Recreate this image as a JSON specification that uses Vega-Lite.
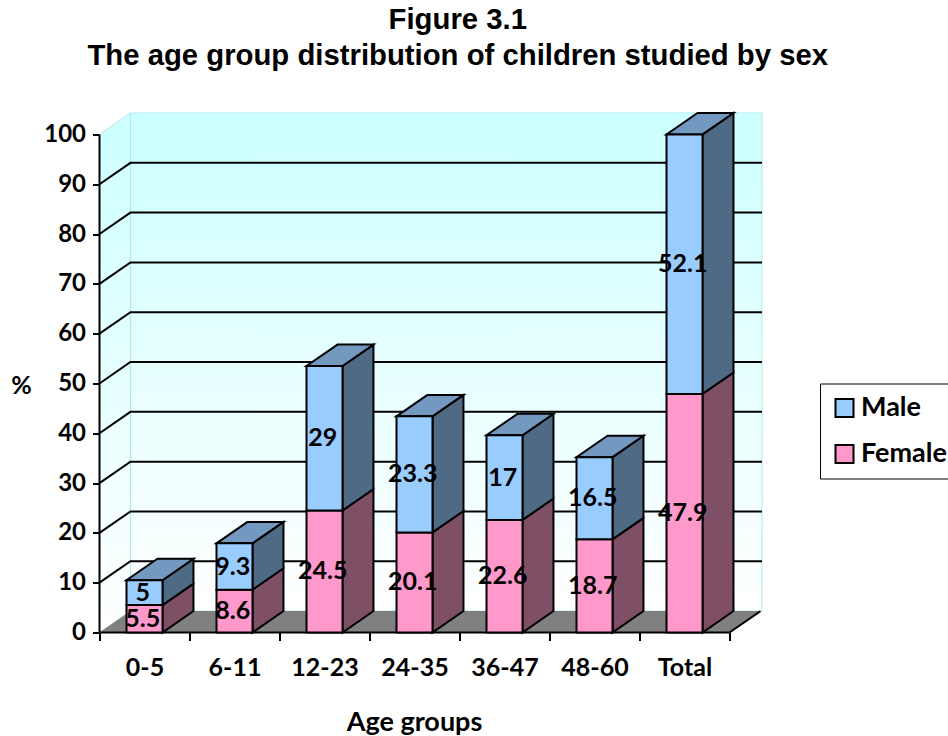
{
  "$schema": "https://vega.github.io/schema/vega-lite/v6.json",
  "autosize": "none",
  "width": 662.5,
  "height": 520,
  "padding": {"left": 99.5, "top": 112.5, "right": 186, "bottom": 103.5},
  "background": "white",
  "view": {"stroke": null},
  "title": {
    "text": ["Figure 3.1", "The age group distribution of children studied by sex"],
    "font": "Liberation Sans",
    "fontSize": 29.3,
    "fontWeight": "bold",
    "color": "black",
    "lineHeight": 36,
    "anchor": "middle",
    "dx": 27,
    "offset": 38
  },
  "params": [
    {"name": "groups", "value": ["0-5", "6-11", "12-23", "24-35", "36-47", "48-60", "Total"]},
    {"name": "dx", "value": 0.344},
    {"name": "dy", "value": 4.3},
    {"name": "halfBar", "value": 0.2},
    {"name": "xLeft", "value": -0.5},
    {"name": "xFront", "value": 6.5},
    {"name": "xBack", "value": 6.861}
  ],
  "datasets": {
    "bars": [
      {"group": "0-5", "sex": "Female", "value": 5.5},
      {"group": "0-5", "sex": "Male", "value": 5},
      {"group": "6-11", "sex": "Female", "value": 8.6},
      {"group": "6-11", "sex": "Male", "value": 9.3},
      {"group": "12-23", "sex": "Female", "value": 24.5},
      {"group": "12-23", "sex": "Male", "value": 29},
      {"group": "24-35", "sex": "Female", "value": 20.1},
      {"group": "24-35", "sex": "Male", "value": 23.3},
      {"group": "36-47", "sex": "Female", "value": 22.6},
      {"group": "36-47", "sex": "Male", "value": 17},
      {"group": "48-60", "sex": "Female", "value": 18.7},
      {"group": "48-60", "sex": "Male", "value": 16.5},
      {"group": "Total", "sex": "Female", "value": 47.9},
      {"group": "Total", "sex": "Male", "value": 52.1}
    ],
    "gridTicks": [
      {"tick": 10}, {"tick": 20}, {"tick": 30}, {"tick": 40}, {"tick": 50},
      {"tick": 60}, {"tick": 70}, {"tick": 80}, {"tick": 90}
    ],
    "depthEnds": [{"k": 0}, {"k": 1}],
    "single": [{"k": 0}]
  },
  "layer": [
    {
      "description": "Back wall with its cyan-to-white fade",
      "data": {"name": "single"},
      "transform": [
        {"calculate": "xLeft + dx", "as": "wx0"},
        {"calculate": "xBack", "as": "wx1"},
        {"calculate": "dy", "as": "wy0"},
        {"calculate": "100 + dy", "as": "wy1"}
      ],
      "mark": {
        "type": "rect",
        "stroke": "#c4f2f2",
        "strokeWidth": 1.5,
        "fill": {
          "gradient": "linear", "x1": 0, "y1": 0, "x2": 0, "y2": 1,
          "stops": [{"offset": 0, "color": "#ccffff"}, {"offset": 1, "color": "#ffffff"}]
        }
      },
      "encoding": {
        "x": {
          "field": "wx0",
          "type": "quantitative",
          "scale": {"domain": [-0.5, 6.861], "nice": false, "zero": false},
          "axis": {
            "title": "Age groups",
            "titleFont": "Lato",
            "titleFontSize": 27,
            "titleFontWeight": "bold",
            "titleColor": "black",
            "titleX": 314.5,
            "titleY": 90,
            "titleBaseline": "middle",
            "titleAlign": "center",
            "values": [-0.5, 0, 0.5, 1, 1.5, 2, 2.5, 3, 3.5, 4, 4.5, 5, 5.5, 6, 6.5],
            "labelExpr": "datum.value % 1 === 0 ? groups[datum.value] : ''",
            "labelFont": "Lato",
            "labelFontSize": 25,
            "labelFontWeight": "bold",
            "labelColor": "black",
            "labelPadding": 15,
            "labelOverlap": false,
            "labelFlush": false,
            "labelBound": false,
            "domain": false,
            "grid": false,
            "tickColor": "black",
            "tickWidth": 2,
            "tickSize": 8,
            "tickOpacity": {"condition": {"test": "datum.value % 1 === 0", "value": 0}, "value": 1}
          }
        },
        "x2": {"field": "wx1"},
        "y": {
          "field": "wy1",
          "type": "quantitative",
          "scale": {"domain": [0, 104.4], "nice": false, "zero": false},
          "axis": {
            "title": "%",
            "titleFont": "Lato",
            "titleFontSize": 25,
            "titleFontWeight": "bold",
            "titleColor": "black",
            "titleAngle": 0,
            "titleX": -78.5,
            "titleY": 272.5,
            "titleBaseline": "middle",
            "titleAlign": "center",
            "values": [0, 10, 20, 30, 40, 50, 60, 70, 80, 90, 100],
            "labelFont": "Lato",
            "labelFontSize": 24,
            "labelFontWeight": "bold",
            "labelColor": "black",
            "labelPadding": 7,
            "labelOverlap": false,
            "labelFlush": false,
            "labelBound": false,
            "domain": false,
            "grid": false,
            "tickColor": "black",
            "tickWidth": 2,
            "tickSize": 7
          }
        },
        "y2": {"field": "wy0"}
      }
    },
    {
      "description": "Left side wall",
      "data": {"name": "depthEnds"},
      "transform": [
        {"calculate": "xLeft + datum.k * dx", "as": "sx"},
        {"calculate": "datum.k * dy", "as": "sy0"},
        {"calculate": "100 + datum.k * dy", "as": "sy1"}
      ],
      "mark": {
        "type": "area",
        "orient": "vertical",
        "stroke": "#b4e4e4",
        "strokeWidth": 1,
        "fill": {
          "gradient": "linear", "x1": 0, "y1": 0, "x2": 0, "y2": 1,
          "stops": [{"offset": 0, "color": "#ccffff"}, {"offset": 1, "color": "#ffffff"}]
        }
      },
      "encoding": {
        "x": {"field": "sx", "type": "quantitative"},
        "y": {"field": "sy1", "type": "quantitative"},
        "y2": {"field": "sy0"}
      }
    },
    {
      "description": "Grey floor",
      "data": {"name": "depthEnds"},
      "transform": [
        {"calculate": "datum.k * dy", "as": "fy"},
        {"calculate": "xLeft + datum.k * dx", "as": "fx0"},
        {"calculate": "xFront + datum.k * dx", "as": "fx1"}
      ],
      "mark": {"type": "area", "orient": "horizontal", "fill": "#808080"},
      "encoding": {
        "y": {"field": "fy", "type": "quantitative"},
        "x": {"field": "fx0", "type": "quantitative"},
        "x2": {"field": "fx1"}
      }
    },
    {
      "description": "Gridlines running along the side wall, then across the back wall",
      "data": {"name": "gridTicks"},
      "transform": [
        {"calculate": "[0, 1, 2]", "as": "vertex"},
        {"flatten": ["vertex"]},
        {"calculate": "datum.vertex === 0 ? xLeft : datum.vertex === 1 ? xLeft + dx : xBack", "as": "gx"},
        {"calculate": "datum.tick + (datum.vertex === 0 ? 0 : dy)", "as": "gy"}
      ],
      "mark": {"type": "line", "color": "black", "strokeWidth": 2},
      "encoding": {
        "x": {"field": "gx", "type": "quantitative"},
        "y": {"field": "gy", "type": "quantitative"},
        "detail": {"field": "tick"},
        "order": {"field": "vertex"}
      }
    },
    {
      "description": "Vertical axis line",
      "data": {"name": "depthEnds"},
      "transform": [
        {"calculate": "xLeft", "as": "ax"},
        {"calculate": "datum.k * 100", "as": "ay"}
      ],
      "mark": {"type": "line", "color": "black", "strokeWidth": 2},
      "encoding": {
        "x": {"field": "ax", "type": "quantitative"},
        "y": {"field": "ay", "type": "quantitative"}
      }
    },
    {
      "description": "Front edge of the floor",
      "data": {"name": "depthEnds"},
      "transform": [
        {"calculate": "datum.k === 0 ? xLeft : xFront", "as": "ax"},
        {"calculate": "0", "as": "ay"}
      ],
      "mark": {"type": "line", "color": "black", "strokeWidth": 2},
      "encoding": {
        "x": {"field": "ax", "type": "quantitative"},
        "y": {"field": "ay", "type": "quantitative"}
      }
    },
    {
      "description": "Right edge of the floor",
      "data": {"name": "depthEnds"},
      "transform": [
        {"calculate": "xFront + datum.k * dx", "as": "ax"},
        {"calculate": "datum.k * dy", "as": "ay"}
      ],
      "mark": {"type": "line", "color": "black", "strokeWidth": 2},
      "encoding": {
        "x": {"field": "ax", "type": "quantitative"},
        "y": {"field": "ay", "type": "quantitative"}
      }
    },
    {
      "description": "Side faces of the female segments",
      "data": {"name": "bars"},
      "transform": [
        {"stack": "value", "groupby": ["group"], "sort": [{"field": "sex", "order": "ascending"}], "as": ["v0", "v1"]},
        {"filter": "datum.sex === 'Female'"},
        {"calculate": "[0, 1]", "as": "k"},
        {"flatten": ["k"]},
        {"calculate": "indexof(groups, datum.group) + halfBar + datum.k * dx", "as": "px"},
        {"calculate": "datum.v0 + datum.k * dy", "as": "py0"},
        {"calculate": "datum.v1 + datum.k * dy", "as": "py1"}
      ],
      "mark": {"type": "area", "orient": "vertical", "fill": "#7f4f66", "stroke": "black", "strokeWidth": 2},
      "encoding": {
        "x": {"field": "px", "type": "quantitative"},
        "y": {"field": "py1", "type": "quantitative"},
        "y2": {"field": "py0"},
        "detail": {"field": "group"}
      }
    },
    {
      "description": "Side faces of the male segments",
      "data": {"name": "bars"},
      "transform": [
        {"stack": "value", "groupby": ["group"], "sort": [{"field": "sex", "order": "ascending"}], "as": ["v0", "v1"]},
        {"filter": "datum.sex === 'Male'"},
        {"calculate": "[0, 1]", "as": "k"},
        {"flatten": ["k"]},
        {"calculate": "indexof(groups, datum.group) + halfBar + datum.k * dx", "as": "px"},
        {"calculate": "datum.v0 + datum.k * dy", "as": "py0"},
        {"calculate": "datum.v1 + datum.k * dy", "as": "py1"}
      ],
      "mark": {"type": "area", "orient": "vertical", "fill": "#4f6a85", "stroke": "black", "strokeWidth": 2},
      "encoding": {
        "x": {"field": "px", "type": "quantitative"},
        "y": {"field": "py1", "type": "quantitative"},
        "y2": {"field": "py0"},
        "detail": {"field": "group"}
      }
    },
    {
      "description": "Top faces of the stacks",
      "data": {"name": "bars"},
      "transform": [
        {"stack": "value", "groupby": ["group"], "sort": [{"field": "sex", "order": "ascending"}], "as": ["v0", "v1"]},
        {"filter": "datum.sex === 'Male'"},
        {"calculate": "[0, 1]", "as": "k"},
        {"flatten": ["k"]},
        {"calculate": "indexof(groups, datum.group) - halfBar + datum.k * dx", "as": "px0"},
        {"calculate": "indexof(groups, datum.group) + halfBar + datum.k * dx", "as": "px1"},
        {"calculate": "datum.v1 + datum.k * dy", "as": "py"}
      ],
      "mark": {"type": "area", "orient": "horizontal", "fill": "#7399c0", "stroke": "black", "strokeWidth": 2},
      "encoding": {
        "y": {"field": "py", "type": "quantitative"},
        "x": {"field": "px0", "type": "quantitative"},
        "x2": {"field": "px1"},
        "detail": {"field": "group"}
      }
    },
    {
      "description": "Front faces, which carry the legend",
      "data": {"name": "bars"},
      "transform": [
        {"stack": "value", "groupby": ["group"], "sort": [{"field": "sex", "order": "ascending"}], "as": ["v0", "v1"]},
        {"calculate": "indexof(groups, datum.group) - halfBar", "as": "px0"},
        {"calculate": "indexof(groups, datum.group) + halfBar", "as": "px1"}
      ],
      "mark": {"type": "rect", "stroke": "black", "strokeWidth": 2},
      "encoding": {
        "x": {"field": "px0", "type": "quantitative"},
        "x2": {"field": "px1"},
        "y": {"field": "v1", "type": "quantitative"},
        "y2": {"field": "v0"},
        "color": {
          "field": "sex",
          "type": "nominal",
          "scale": {"domain": ["Male", "Female"], "range": ["#99ccff", "#ff99cc"]},
          "legend": {
            "orient": "none",
            "legendX": 720.5,
            "legendY": 271,
            "title": null,
            "strokeColor": "black",
            "fillColor": "white",
            "padding": 11,
            "symbolType": "square",
            "symbolSize": 324,
            "symbolStrokeColor": "black",
            "symbolStrokeWidth": 2,
            "symbolOpacity": 1,
            "labelFont": "Lato",
            "labelFontSize": 27,
            "labelFontWeight": "bold",
            "labelColor": "black",
            "labelLimit": 200,
            "labelOffset": 3,
            "rowPadding": 18
          }
        }
      }
    },
    {
      "description": "Value labels centred on each front face",
      "data": {"name": "bars"},
      "transform": [
        {"stack": "value", "groupby": ["group"], "sort": [{"field": "sex", "order": "ascending"}], "as": ["v0", "v1"]},
        {"calculate": "indexof(groups, datum.group) - 0.02", "as": "px"},
        {"calculate": "(datum.v0 + datum.v1) / 2", "as": "py"}
      ],
      "mark": {"type": "text", "font": "Lato", "fontSize": 25, "fontWeight": "bold", "color": "black", "align": "center", "baseline": "middle"},
      "encoding": {
        "x": {"field": "px", "type": "quantitative"},
        "y": {"field": "py", "type": "quantitative"},
        "text": {"field": "value", "type": "nominal"}
      }
    }
  ]
}
